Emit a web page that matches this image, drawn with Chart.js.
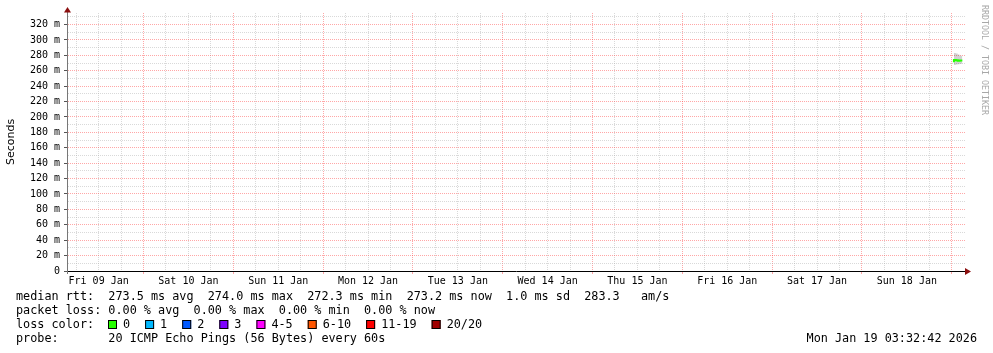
<!DOCTYPE html>
<html>
<head>
<meta charset="utf-8">
<title>Smokeping - last 10 days</title>
<script src="https://cdn.jsdelivr.net/npm/chart.js@4/dist/chart.umd.min.js"></script>
<style>
  html, body { margin: 0; padding: 0; background: #fff; }
  #wrap { width: 993px; height: 353px; position: relative; }
</style>
</head>
<body>
<div id="wrap"><canvas id="smoke" width="993" height="353"></canvas></div>
<script>
// graph window (10 days ending at the probe time)
var rangeStart = '2026-01-09T03:32:42Z';
var rangeEnd = '2026-01-19T03:32:42Z';

// x axis day labels, one per day starting Fri 09 Jan
var dayLabels = ['Fri 09 Jan', 'Sat 10 Jan', 'Sun 11 Jan', 'Mon 12 Jan', 'Tue 13 Jan',
                 'Wed 14 Jan', 'Thu 15 Jan', 'Fri 16 Jan', 'Sat 17 Jan', 'Sun 18 Jan'];

// y axis: grid every 10 m, labels every 20 m
var yMax = 335;
var yStep = 10;
var yLabelStep = 20;

// measured data (only the last few hours exist)
var sampleTimes = ['2026-01-19T00:35:00Z', '2026-01-19T01:05:00Z', '2026-01-19T01:35:00Z',
                   '2026-01-19T02:05:00Z', '2026-01-19T02:35:00Z', '2026-01-19T02:50:00Z'];
var medianRtt = [271.2, 274.0, 273.6, 273.0, 273.2, 273.2];
var smokeMin  = [270.0, 267.5, 268.0, 268.5, 269.0, 269.0];
var smokeMax  = [272.5, 283.0, 282.5, 281.0, 279.5, 279.5];

// legend
var statsRtt  = 'median rtt:  273.5 ms avg  274.0 ms max  272.3 ms min  273.2 ms now  1.0 ms sd  283.3   am/s';
var statsLoss = 'packet loss: 0.00 % avg  0.00 % max  0.00 % min  0.00 % now';
var lossLabels = ['0', '1', '2', '3', '4-5', '6-10', '11-19', '20/20'];
var lossColors = ['#26ff00', '#00b8ff', '#0059ff', '#7e00ff', '#ff00ff', '#ff5500', '#ff0000', '#a10000'];
var probeText = 'probe:       20 ICMP Echo Pings (56 Bytes) every 60s';
var stampText = 'Mon Jan 19 03:32:42 2026';

var HOUR = 3600000;
var DAY = 24 * HOUR;
var t0 = Date.parse(rangeStart);
var t1 = Date.parse(rangeEnd);
var firstDay = Date.parse('2026-01-09T00:00:00Z');

var MONO = "'DejaVu Sans Mono', 'Liberation Mono', monospace";
var majorGrid = 'rgba(255, 60, 60, 0.45)';
var minorGrid = 'rgba(170, 170, 170, 0.45)';

function pts(vals) {
  return sampleTimes.map(function(t, i) { return {x: Date.parse(t), y: vals[i]}; });
}

var extras = {
  id: 'extras',
  afterDraw: function(chart) {
    var ctx = chart.ctx;
    var a = chart.chartArea;
    ctx.save();

    // axis extensions and arrows
    ctx.strokeStyle = '#777';
    ctx.lineWidth = 1;
    ctx.beginPath();
    ctx.moveTo(a.left + 0.5, a.top);
    ctx.lineTo(a.left + 0.5, 10);
    ctx.moveTo(a.left + 0.5, a.bottom);
    ctx.lineTo(a.left + 0.5, a.bottom + 3);
    ctx.stroke();
    ctx.fillStyle = '#8b0f0f';
    ctx.beginPath();
    ctx.moveTo(a.left + 0.5, 7);
    ctx.lineTo(a.left - 3, 12.5);
    ctx.lineTo(a.left + 4, 12.5);
    ctx.closePath();
    ctx.fill();
    ctx.beginPath();
    ctx.moveTo(a.right + 6, a.bottom + 0.5);
    ctx.lineTo(a.right, a.bottom - 3);
    ctx.lineTo(a.right, a.bottom + 4);
    ctx.closePath();
    ctx.fill();

    // y title
    ctx.fillStyle = '#000';
    ctx.font = "11px 'DejaVu Sans', sans-serif";
    ctx.textAlign = 'center';
    ctx.textBaseline = 'middle';
    ctx.translate(11, 142);
    ctx.rotate(-Math.PI / 2);
    ctx.fillText('Seconds', 0, 0);
    ctx.setTransform(1, 0, 0, 1, 0, 0);

    // rrdtool watermark
    ctx.fillStyle = '#a8a8a8';
    ctx.font = "8.3px " + MONO;
    ctx.textAlign = 'left';
    ctx.translate(984, 5);
    ctx.rotate(Math.PI / 2);
    ctx.fillText('RRDTOOL / TOBI OETIKER', 0, 0);
    ctx.setTransform(1, 0, 0, 1, 0, 0);

    // legend lines
    ctx.fillStyle = '#000';
    ctx.font = "11.8px " + MONO;
    ctx.textAlign = 'left';
    ctx.textBaseline = 'middle';
    ctx.fillText(statsRtt, 16, 297);
    ctx.fillText(statsLoss, 16, 311);
    ctx.fillText('loss color:', 16, 325);
    var cx = 108;
    lossLabels.forEach(function(lbl, i) {
      ctx.fillStyle = lossColors[i];
      ctx.fillRect(cx, 320, 9, 9);
      ctx.strokeStyle = '#000';
      ctx.strokeRect(cx + 0.5, 320.5, 8, 8);
      ctx.fillStyle = '#000';
      ctx.fillText(lbl, cx + 15, 325);
      cx = cx + 15 + ctx.measureText(lbl).width + 15;
    });
    ctx.fillText(probeText, 16, 339);
    ctx.textAlign = 'right';
    ctx.fillText(stampText, 977, 339);
    ctx.restore();
  }
};

var chart = new Chart(document.getElementById('smoke'), {
  type: 'line',
  data: {
    datasets: [
      {
        label: 'median rtt',
        data: pts(medianRtt),
        borderColor: '#26ff00',
        borderWidth: 2,
        stepped: 'after',
        pointRadius: 0,
        fill: false
      },
      {
        label: 'smoke min',
        data: pts(smokeMin),
        borderColor: 'rgba(0,0,0,0)',
        borderWidth: 0,
        stepped: 'after',
        pointRadius: 0,
        fill: false
      },
      {
        label: 'smoke max',
        data: pts(smokeMax),
        borderColor: 'rgba(0,0,0,0)',
        borderWidth: 0,
        backgroundColor: 'rgba(0,0,0,0.18)',
        stepped: 'after',
        pointRadius: 0,
        fill: 1
      }
    ]
  },
  options: {
    responsive: false,
    animation: false,
    devicePixelRatio: 1,
    layout: { padding: { top: 13, right: 28, left: 0, bottom: 0 } },
    plugins: {
      legend: { display: false },
      tooltip: { enabled: false },
      title: { display: false }
    },
    scales: {
      x: {
        type: 'linear',
        min: t0,
        max: t1,
        afterFit: function(s) { s.height = 82; },
        afterBuildTicks: function(s) {
          var ticks = [];
          for (var t = firstDay + 6 * HOUR; t < t1; t += 6 * HOUR) {
            if (t > t0) ticks.push({value: t});
          }
          s.ticks = ticks;
        },
        ticks: {
          autoSkip: false,
          maxRotation: 0,
          padding: 1,
          color: '#000',
          font: { family: MONO, size: 10 },
          callback: function(v) {
            if (new Date(v).getUTCHours() !== 12) return '';
            return dayLabels[Math.floor((v - firstDay) / DAY)];
          }
        },
        grid: {
          tickLength: 3,
          color: function(c) {
            var v = c.tick ? c.tick.value : 0;
            return new Date(v).getUTCHours() === 0 ? majorGrid : minorGrid;
          },
          tickColor: function(c) {
            var v = c.tick ? c.tick.value : 0;
            return new Date(v).getUTCHours() === 0 ? majorGrid : 'rgba(0,0,0,0)';
          }
        },
        border: { color: '#000', width: 1, dash: [1, 1] }
      },
      y: {
        min: 0,
        max: yMax,
        afterFit: function(s) { s.width = 67; },
        afterBuildTicks: function(s) {
          var ticks = [];
          for (var v = 0; v < yMax; v += yStep) ticks.push({value: v});
          s.ticks = ticks;
        },
        ticks: {
          autoSkip: false,
          padding: 4,
          color: '#000',
          font: { family: MONO, size: 10 },
          callback: function(v) {
            if (v === 0) return '0';
            return v % yLabelStep === 0 ? v + ' m' : '';
          }
        },
        grid: {
          tickLength: 3,
          color: function(c) {
            var v = c.tick ? c.tick.value : 0;
            if (v === 0) return 'rgba(0,0,0,0)';
            return v % yLabelStep === 0 ? majorGrid : minorGrid;
          },
          tickColor: function(c) {
            var v = c.tick ? c.tick.value : 0;
            return v % yLabelStep === 0 ? '#555' : 'rgba(0,0,0,0)';
          }
        },
        border: { color: '#777', width: 1, dash: [1, 1] }
      }
    }
  },
  plugins: [extras]
});
</script>
</body>
</html>
